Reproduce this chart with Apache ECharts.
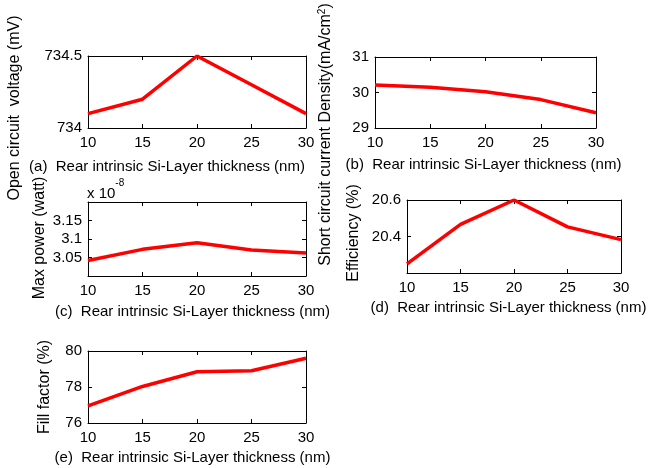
<!DOCTYPE html>
<html>
<head>
<meta charset="utf-8">
<script src="https://cdn.jsdelivr.net/npm/echarts@6/dist/echarts.min.js"></script>
<style>
html,body{margin:0;padding:0;background:#fff;}
#chart{width:651px;height:468px;}
</style>
</head>
<body>
<div id="chart"></div>
<script>
// ---- data ----
const thickness = [10, 15, 20, 25, 30];
const xTicks = ['10', '15', '20', '25', '30'];
const vocValues = [734.1, 734.2, 734.5, 734.3, 734.1];          // mV
const jscValues = [30.21, 30.15, 30.02, 29.8, 29.43];           // mA/cm2
const pmaxValues = [3.042, 3.072, 3.09, 3.07, 3.062];           // x 1e-8 W
const effValues = [20.25, 20.466, 20.6, 20.453, 20.383];        // %
const ffValues = [76.95, 78.03, 78.85, 78.9, 79.6];             // %

const xLabelText = 'Rear intrinsic Si-Layer thickness (nm)';
const panelLetters = ['(a)', '(b)', '(c)', '(d)', '(e)'];

const FONT = "'Liberation Sans', Arial, sans-serif";

const panels = [
  { grid: {left: 88, top: 56, width: 218, height: 72}, values: vocValues,
    y: {min: 734, max: 734.5, interval: 0.5}, yName: 'Open circuit  voltage (mV)', yGap: 65, yPad: [0, 32, 0, 0],
    xGap: 31, xPad: [0, 60, 0, 0] },
  { grid: {left: 375, top: 57, width: 221, height: 71}, values: jscValues,
    y: {min: 29, max: 31, interval: 1}, yName: 'Short circuit current Density(mA/cm{sup|2})', yGap: 40, yPad: [0, 84, 0, 0],
    xGap: 29, xPad: [0, 4, 0, 0] },
  { grid: {left: 88, top: 202, width: 218, height: 74}, values: pmaxValues,
    y: {min: 3.0, max: 3.2, interval: 0.05, hideMin: true, hideMax: true}, yName: 'Max power (watt)', yGap: 40, yPad: [0, 0, 0, 2],
    xGap: 28, xPad: [0, 9, 0, 0] },
  { grid: {left: 407, top: 200, width: 214, height: 73}, values: effValues,
    y: {min: 20.2, max: 20.6, interval: 0.2, hideMin: true}, yName: 'Efficiency (%)', yGap: 45, yPad: [0, 0, 0, 7],
    xGap: 27, xPad: [0, 11, 0, 0] },
  { grid: {left: 88, top: 351, width: 218, height: 72}, values: ffValues,
    y: {min: 76, max: 80, interval: 2}, yName: 'Fill factor (%)', yGap: 35, yPad: [0, 0, 0, 0],
    xGap: 27, xPad: [0, 9, 0, 0] }
];

const axisLine = {show: true, lineStyle: {color: '#000', width: 1}};
const tickIn = {show: true, inside: true, length: 4, lineStyle: {color: '#000', width: 1}};

const grids = [], xAxes = [], yAxes = [], series = [];
panels.forEach((p, i) => {
  grids.push(Object.assign({containLabel: false}, p.grid));
  xAxes.push({
    gridIndex: i, type: 'value', position: 'bottom', min: 10, max: 30, interval: 5,
    axisLine, axisTick: tickIn, splitLine: {show: false},
    axisLabel: {color: '#000', fontSize: 15, fontFamily: FONT, margin: 7,
      formatter: v => xTicks[thickness.indexOf(v)] || ''},
    name: panelLetters[i] + '  ' + xLabelText, nameLocation: 'middle', nameGap: p.xGap,
    nameTextStyle: {color: '#000', fontSize: 15, fontFamily: FONT, padding: p.xPad}
  });
  xAxes.push({
    gridIndex: i, type: 'value', position: 'top', min: 10, max: 30, interval: 5,
    axisLine, axisTick: tickIn, axisLabel: {show: false}, splitLine: {show: false}
  });
  yAxes.push({
    gridIndex: i, type: 'value', position: 'left', min: p.y.min, max: p.y.max, interval: p.y.interval,
    axisLine, axisTick: tickIn, splitLine: {show: false},
    axisLabel: {color: '#000', fontSize: 15, fontFamily: FONT, margin: 6,
      showMinLabel: !p.y.hideMin, showMaxLabel: !p.y.hideMax},
    name: p.yName, nameLocation: 'middle', nameGap: p.yGap, nameRotate: 90,
    nameTextStyle: {color: '#000', fontSize: 16, fontFamily: FONT, padding: p.yPad,
      rich: {sup: {fontSize: 10, fontFamily: FONT, color: '#000', verticalAlign: 'top', padding: [0, 0, 8, 0]}}}
  });
  yAxes.push({
    gridIndex: i, type: 'value', position: 'right', min: p.y.min, max: p.y.max, interval: p.y.interval,
    axisLine, axisTick: tickIn, axisLabel: {show: false}, splitLine: {show: false}
  });
  series.push({
    type: 'line', xAxisIndex: 2 * i, yAxisIndex: 2 * i,
    data: thickness.map((t, k) => [t, p.values[k]]),
    showSymbol: false, symbol: 'none',
    lineStyle: {color: '#ff0000', width: 3.5},
    animation: false
  });
});

const chart = echarts.init(document.getElementById('chart'), null, {renderer: 'canvas'});
chart.setOption({
  backgroundColor: '#fff',
  animation: false,
  grid: grids, xAxis: xAxes, yAxis: yAxes, series,
  graphic: [{
    type: 'text', left: 87, top: 178,
    style: {
      text: '{a|x 10}{b|-8}',
      rich: {
        a: {fontSize: 15, fontFamily: FONT, fill: '#000', padding: [8, 0, 0, 0]},
        b: {fontSize: 10, fontFamily: FONT, fill: '#000', verticalAlign: 'top'}
      }
    }
  }]
});
</script>
</body>
</html>
